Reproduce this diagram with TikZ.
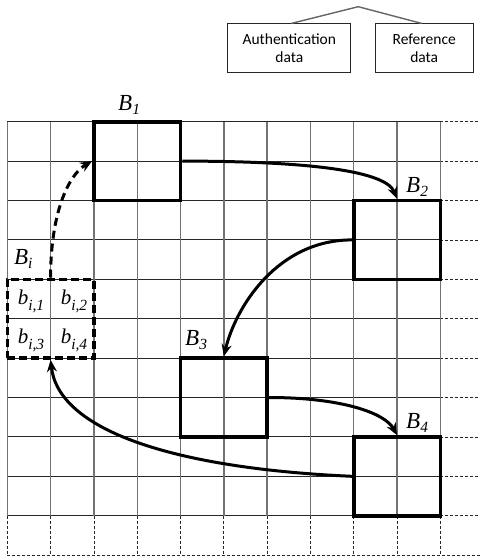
\documentclass[tikz,border=0pt]{standalone}
\usepackage{fontspec}
\setmainfont{Liberation Serif}
\newfontfamily\calfont{Carlito}
\usetikzlibrary{arrows.meta}
\newcommand\lowsubB[1]{\raisebox{-4pt}{\fontsize{15.5}{15.5}\selectfont #1}}
\newcommand\lowsubb[1]{\raisebox{-6pt}{\fontsize{15.5}{15.5}\selectfont #1}}
\begin{document}
\begin{tikzpicture}[x=1pt,y=-1pt,
  hline/.style={black!85,line width=1pt},
  vline/.style={black!55,line width=1.4pt},
  ext/.style={black!85,line width=0.8pt,dash pattern=on 3pt off 2pt},
  bigbox/.style={draw=black,line width=3.6pt,minimum width=86.6pt,minimum height=78.8pt,inner sep=0pt},
  dbox/.style={bigbox,dash pattern=on 8pt off 4pt},
  arr/.style={line width=3pt,-{Stealth[length=12pt,width=10pt]}},
  darr/.style={arr,dash pattern=on 8pt off 5pt},
  blab/.style={font=\fontsize{23}{23}\selectfont\itshape,inner sep=0pt,anchor=base west},
  slab/.style={font=\fontsize{21}{21}\selectfont\itshape,inner sep=0pt,anchor=base},
  databox/.style={draw=black!85,line width=1pt,minimum height=48.7pt,align=center,font=\calfont\fontsize{15.5}{18.5}\selectfont,inner sep=0pt}
]
\useasboundingbox (0,0) rectangle (480,557);
% grid
\foreach \j in {0,...,10} {
  \pgfmathsetmacro\yy{121.7+39.4*\j}
  \draw[hline] (7.3,\yy) -- (440.3,\yy);
  \draw[ext] (440.3,\yy) -- (480,\yy);
}
\draw[ext] (7.3,555.1) -- (480,555.1);
\foreach \i in {0,...,10} {
  \pgfmathsetmacro\xx{7.3+43.3*\i}
  \draw[vline] (\xx,121.7) -- (\xx,515.7);
  \draw[ext] (\xx,515.7) -- (\xx,555.1);
}
% blocks
\node[bigbox] (B1) at (137.2,161.1) {};
\node[bigbox] (B2) at (397,239.9) {};
\node[dbox] (Bi) at (50.6,318.7) {};
\node[bigbox] (B3) at (223.8,397.5) {};
\node[bigbox] (B4) at (397,476.3) {};
% labels
\node[blab] (L1) at (118,110) {B\lowsubB{1}};
\node[blab] (L2) at (406,192) {B\lowsubB{2}};
\node[blab] (L3) at (185,345) {B\lowsubB{3}};
\node[blab] (L4) at (406,428) {B\lowsubB{4}};
\node[blab] (Li) at (14,264) {B\lowsubB{i}};
\node[slab] (b1) at (31,304) {b\lowsubb{i,1}};
\node[slab] (b2) at (74,304) {b\lowsubb{i,2}};
\node[slab] (b3) at (31,343.5) {b\lowsubb{i,3}};
\node[slab] (b4) at (74,343.5) {b\lowsubb{i,4}};
% arrows
\draw[darr] (Bi.north) .. controls +(0,-64) and +(-24,14) .. (B1.west);
\draw[arr] (B1.east) .. controls +(110,0) and +(-12,-30) .. (B2.north);
\draw[arr] (B2.west) .. controls +(-74,0) and +(12,-50) .. (B3.north);
\draw[arr] (B3.east) .. controls +(73,0) and +(-12,-22) .. (B4.north);
\draw[arr] (B4.west) .. controls +(-180,-8) and +(8,70) .. (Bi.south);
% top boxes
\node[databox,minimum width=122.7pt] (auth) at (289.3,48.3) {Authentication\\data};
\node[databox,minimum width=98.3pt] (ref) at (424.2,48.3) {Reference\\data};
\coordinate (apex) at (358.3,6.7);
\draw[black!60,line width=1.4pt] ([xshift=2pt]auth.north) -- (apex) -- ([xshift=-2.5pt]ref.north);
\end{tikzpicture}
\end{document}
